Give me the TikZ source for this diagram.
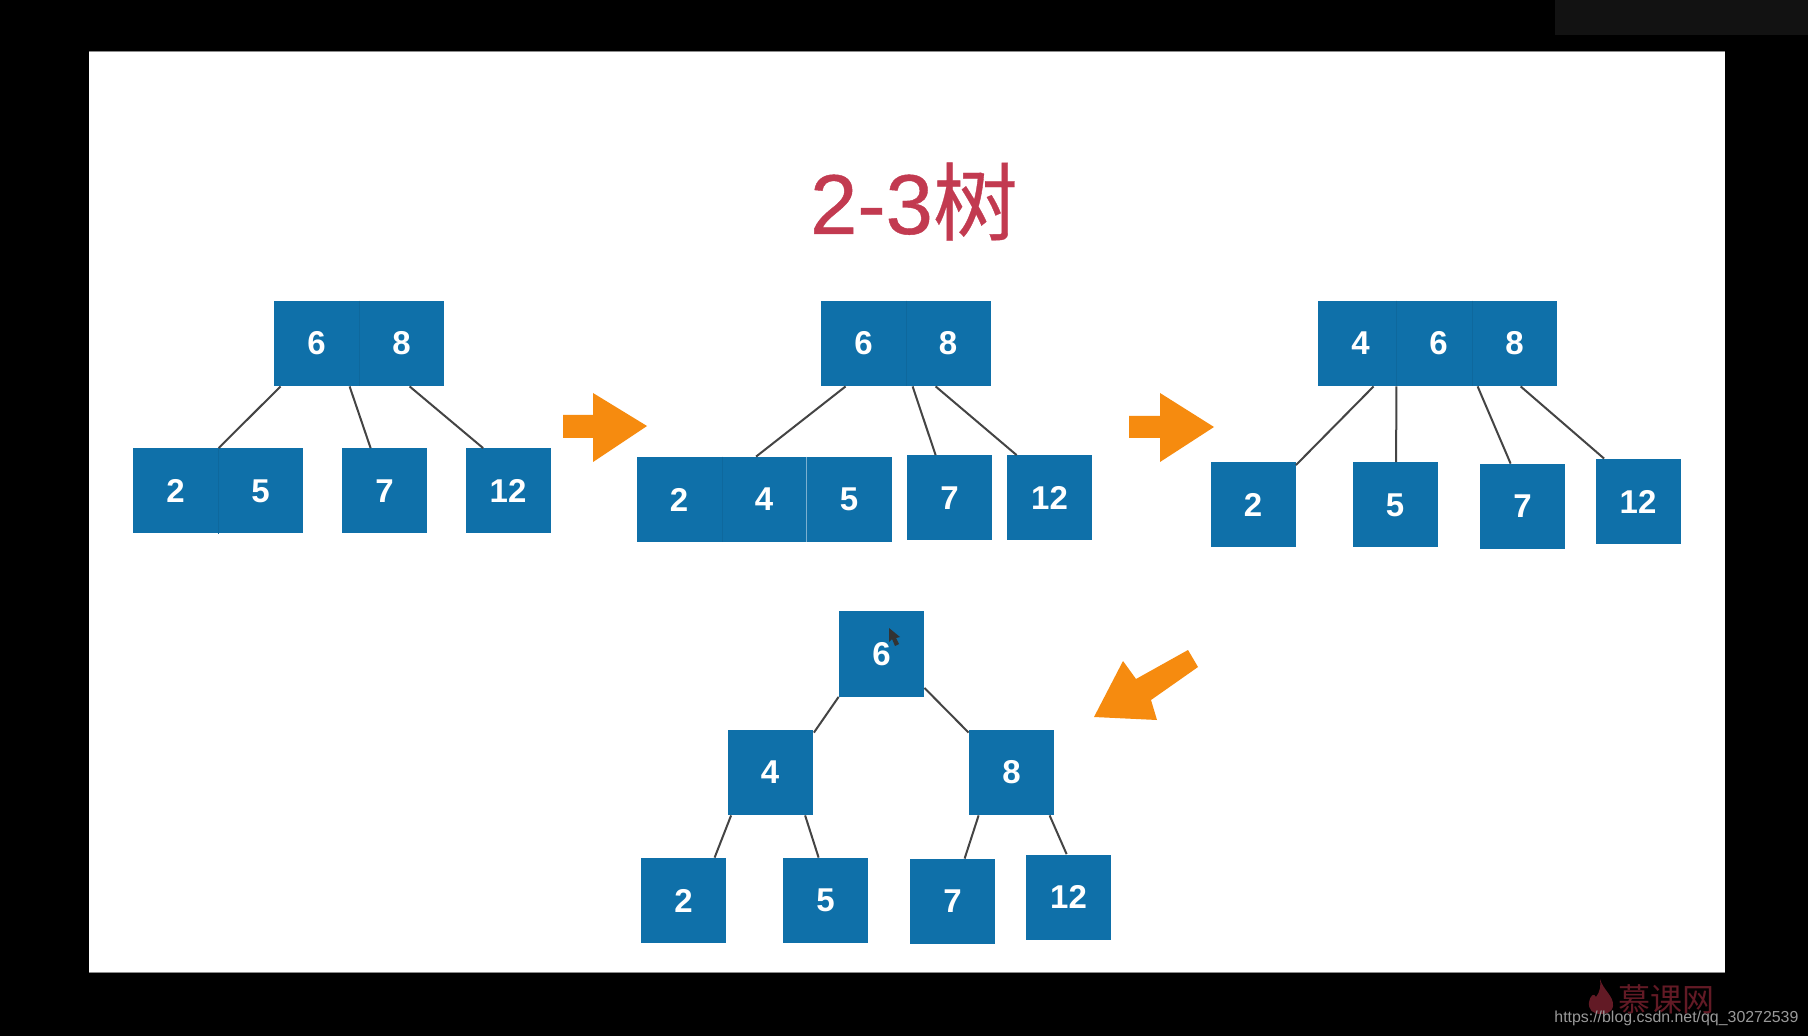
\documentclass[tikz,border=0pt]{standalone}
\usepackage{fontspec}
\setmainfont{Liberation Sans}
\newfontfamily\cjkfont{Noto Sans CJK SC}
\newfontfamily\titlefont[FakeBold=0.5]{Liberation Sans}
\newfontfamily\titlecjk[FakeBold=0.4]{Noto Sans CJK SC}
\usetikzlibrary{calc}
\definecolor{slideblue}{HTML}{0F70A9}
\definecolor{arroworange}{HTML}{F68B0F}
\definecolor{titlered}{HTML}{C23A50}
\definecolor{linkgrey}{HTML}{444444}
\definecolor{markred}{HTML}{621A25}
\tikzset{
  cell/.style={fill=slideblue,text=white,inner sep=0pt,minimum width=42.5pt,minimum height=42.5pt,font=\fontsize{16.5}{18}\selectfont\bfseries},
  link/.style={draw=linkgrey,line width=1pt},
  softdiv/.style={draw=slideblue!93!black,line width=0.4pt},
  lightdiv/.style={draw=slideblue!55!white,line width=0.5pt},
  bigarrow/.style={fill=arroworange}
}
\newcommand{\conn}[4]{\draw[link] ($(#1.south west)+(#2,0)$) -- ($(#3.north west)+(#4,0)$);}
\begin{document}
\begin{tikzpicture}[x=0.5pt,y=-0.5pt]
\useasboundingbox (0,0) rectangle (1808,1036);
\fill[black] (0,0) rectangle (1808,1036);
\fill[black!93!white] (1555,0) rectangle (1808,35);
\fill[white] (89,51.5) rectangle (1725,972);
\draw[black!45,line width=0.5pt] (89,51.5) -- (1725,51.5);
\draw[black!45,line width=0.5pt] (89,972) -- (1725,972);

\node[text=titlered,anchor=base,inner sep=0pt] (title) at (914,234)
  {\fontsize{42.5}{48}\selectfont\titlefont 2-3{\titlecjk 树}};

% tree A
\node[cell] (a6) at (316.5,343.5) {6};
\node[cell] (a8) at (401.5,343.5) {8};
\node[cell] (a2) at (175.5,491) {2};
\node[cell] (a5) at (260.5,491) {5};
\node[cell] (a7) at (384.5,491) {7};
\node[cell] (a12) at (508,491) {12};
\draw[softdiv] (a6.north east) -- (a6.south east);
\draw[softdiv] (a2.north east) -- (a2.south east);
\conn{a6}{7}{a2}{86}
\conn{a6}{76}{a7}{29}
\conn{a6}{136}{a12}{18}

% tree B
\node[cell] (b6) at (863.5,343.5) {6};
\node[cell] (b8) at (948,343.5) {8};
\node[cell] (b2) at (679,499.5) {2};
\node[cell] (b4) at (764,499.5) {4};
\node[cell] (b5) at (849,499.5) {5};
\node[cell] (b7) at (949.5,498) {7};
\node[cell] (b12) at (1049.5,498) {12};
\draw[softdiv] (b6.north east) -- (b6.south east);
\draw[softdiv] (b2.north east) -- (b2.south east);
\draw[lightdiv] (b4.north east) -- (b4.south east);
\conn{b6}{25}{b4}{35}
\conn{b6}{92}{b7}{29}
\conn{b6}{115}{b12}{10}

% tree C
\node[cell,minimum width=39pt] (c4) at (1357,343.5) {\hspace{3.5pt}4};
\node[cell,minimum width=38pt] (c6) at (1434,343.5) {\hspace{4.6pt}6};
\node[cell] (c8) at (1514.5,343.5) {8};
\node[cell] (c2) at (1253,505) {2};
\node[cell] (c5) at (1395,505) {5};
\node[cell] (c7) at (1522.5,506.5) {7};
\node[cell] (c12) at (1638,501.5) {12};
\draw[softdiv] (c4.north east) -- (c4.south east);
\draw[softdiv] (c6.north east) -- (c6.south east);
\draw[link] ($(c4.south west)+(56,0)$) -- ($(c2.north east)+(0,3)$);
\draw[link] (c4.south east) -- ($(c5.north west)+(44,0)$);
\draw[link] ($(c8.south west)+(6,0)$) -- ($(c7.north west)+(31,0)$);
\draw[link] ($(c8.south west)+(49,0)$) -- ($(c12.north west)+(9,0)$);

% tree D
\node[cell] (d6) at (881.5,654) {6};
\node[cell] (d4) at (770,772.5) {4};
\node[cell] (d8) at (1011.5,772.5) {8};
\node[cell] (d2) at (683.5,900.5) {2};
\node[cell] (d5) at (825.5,900.5) {5};
\node[cell] (d7) at (952.5,901.5) {7};
\node[cell] (d12) at (1068.5,897) {12};
\draw[link] (d6.south west) -- ($(d4.north east)+(1,3)$);
\draw[link] ($(d6.south east)+(0,-9)$) -- ($(d8.north west)+(0,3)$);
\conn{d4}{4}{d2}{74}
\conn{d4}{78}{d5}{36}
\conn{d8}{10}{d7}{55}
\conn{d8}{81}{d12}{41}

% orange arrows
\fill[bigarrow] (563,415) -- (593,415) -- (593,393) -- (647,426) -- (593,462) -- (593,438) -- (563,438) -- cycle;
\fill[bigarrow] (1129,416) -- (1160,416) -- (1160,393) -- (1214,427) -- (1160,462) -- (1160,438) -- (1129,438) -- cycle;
\fill[bigarrow] (1188,650) -- (1198,667) -- (1151,700) -- (1157,720) -- (1094,717) -- (1123,661) -- (1136,679) -- cycle;

% mouse pointer
\fill[black!80] (889,628) -- (889,642) -- (892,639) -- (895,646) -- (899,644) -- (896,638) -- (900,637) -- cycle;

% watermark
\fill[markred] (1600,979) .. controls (1603,990) and (1614,996) .. (1613,1006) .. controls (1612,1013) and (1605,1014) .. (1601,1014) .. controls (1593,1014) and (1588,1010) .. (1589,1002) .. controls (1590,996) and (1594,992) .. (1596,997) .. controls (1600,992) and (1601,986) .. (1600,979) -- cycle;
\node[text=markred,anchor=base west,inner sep=0pt] (mark) at (1618,1011)
  {\cjkfont\fontsize{16}{18}\selectfont 慕课网};
\node[text=black!40,anchor=base west,inner sep=0pt] (url) at (1554,1022)
  {\fontsize{7.95}{10}\selectfont https://blog.csdn.net/qq\_30272539};
\end{tikzpicture}
\end{document}
